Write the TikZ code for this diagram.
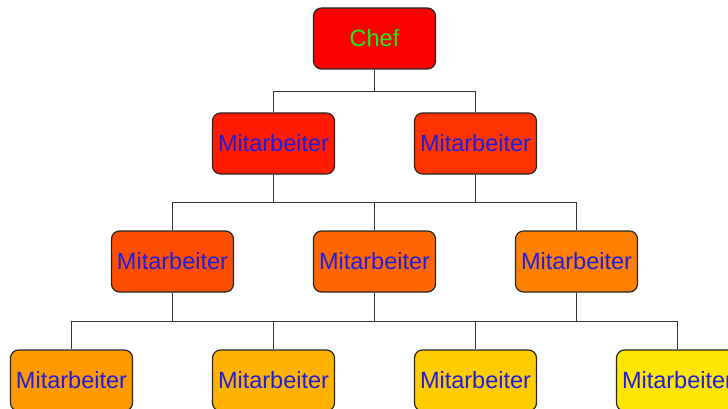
\documentclass[tikz,border=0pt]{standalone}
\usepackage{fontspec}
\setmainfont{Liberation Sans}
\usetikzlibrary{positioning}

\definecolor{chefgreen}{RGB}{30,235,30}
\definecolor{mablue}{RGB}{30,30,225}

\begin{document}
\begin{tikzpicture}[on grid,
    box/.style={draw=black!85,line width=1.2pt,rounded corners=8pt,
      minimum width=122pt,minimum height=61pt,inner sep=0pt,
      font=\fontsize{23.5pt}{28pt}\selectfont,text=mablue},
    conn/.style={draw=black!80,line width=1.3pt}]
    \clip (0,0) rectangle (728pt,-409pt);
    \node[box,fill={rgb,255:red,255;green,0;blue,0},text=chefgreen](chef) at (374.5pt,-38.5pt) {Chef};
    \node[box,fill={rgb,255:red,255;green,26;blue,0}](m21) [below left=105pt and 101pt of chef]{Mitarbeiter};
    \node[box,fill={rgb,255:red,255;green,51;blue,0}](m22) [below right=105pt and 101pt of chef]{Mitarbeiter};
    \node[box,fill={rgb,255:red,255;green,77;blue,0}](m31) [below left=118pt and 101pt of m21]{Mitarbeiter};
    \node[box,fill={rgb,255:red,255;green,102;blue,0}](m32) [below right=118pt and 101pt of m21]{Mitarbeiter};
    \node[box,fill={rgb,255:red,255;green,128;blue,0}](m33) [below right=118pt and 101pt of m22]{Mitarbeiter};
    \node[box,fill={rgb,255:red,255;green,153;blue,0}](m41) [below left=119pt and 101pt of m31]{Mitarbeiter};
    \node[box,fill={rgb,255:red,255;green,179;blue,0}](m42) [below right=119pt and 101pt of m31]{Mitarbeiter};
    \node[box,fill={rgb,255:red,255;green,204;blue,0}](m43) [below left=119pt and 101pt of m33]{Mitarbeiter};
    \node[box,fill={rgb,255:red,255;green,230;blue,0}](m44) [below right=119pt and 101pt of m33]{Mitarbeiter};
    \foreach \b in {m21,m22}
      \path[conn] (chef.south) -- ++(0,-22pt) -| (\b.north);
    \foreach \a/\b in {m21/m31,m21/m32,m22/m32,m22/m33}
      \path[conn] (\a.south) -- ++(0,-28pt) -| (\b.north);
    \foreach \a/\b in {m31/m41,m31/m42,m32/m42,m32/m43,m33/m43,m33/m44}
      \path[conn] (\a.south) -- ++(0,-29pt) -| (\b.north);
\end{tikzpicture}
\end{document}
